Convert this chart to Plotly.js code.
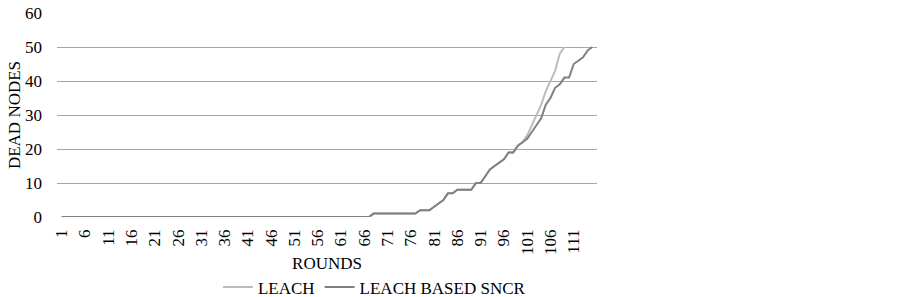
<!DOCTYPE html>
<html>
<head>
<meta charset="utf-8">
<script src="https://cdn.plot.ly/plotly-3.0.1.min.js"></script>
<style>html,body{margin:0;padding:0;background:#fff;}#chart{width:903px;height:297px;}</style>
</head>
<body>
<div id="chart"></div>
<script>
// Rounds 1..115
const rounds = [];
for (let i = 1; i <= 115; i++) rounds.push(i);

// LEACH dead nodes (rounds 1..109)
const leach = [
  0,0,0,0,0,0,0,0,0,0, 0,0,0,0,0,0,0,0,0,0,
  0,0,0,0,0,0,0,0,0,0, 0,0,0,0,0,0,0,0,0,0,
  0,0,0,0,0,0,0,0,0,0, 0,0,0,0,0,0,0,0,0,0,
  0,0,0,0,0,0,0,1,1,1, 1,1,1,1,1,1,1,2,2,2,
  3,4,5,7,7,8,8,8,8,10, 10,12,14,15,16,17,19,19,21,22,
  24,27,30,33,37,40,43,48,50
];

// LEACH BASED SNCR dead nodes (rounds 1..115)
const sncr = [
  0,0,0,0,0,0,0,0,0,0, 0,0,0,0,0,0,0,0,0,0,
  0,0,0,0,0,0,0,0,0,0, 0,0,0,0,0,0,0,0,0,0,
  0,0,0,0,0,0,0,0,0,0, 0,0,0,0,0,0,0,0,0,0,
  0,0,0,0,0,0,0,1,1,1, 1,1,1,1,1,1,1,2,2,2,
  3,4,5,7,7,8,8,8,8,10, 10,12,14,15,16,17,19,19,21,22,
  23,25,27,29,33,35,38,39,41,41, 45,46,47,49,50
];

const xTicks = [1,6,11,16,21,26,31,36,41,46,51,56,61,66,71,76,81,86,91,96,101,106,111];
const yTicks = [0,10,20,30,40,50,60];

const seriesNames = ['LEACH', 'LEACH BASED SNCR'];

const font = {family: '"Liberation Serif", "Times New Roman", serif', color: '#000', size: 17};

const traces = [
  {x: rounds.slice(0, leach.length), y: leach, type: 'scatter', mode: 'lines', name: seriesNames[0],
   line: {color: '#bcbcbc', width: 2}},
  {x: rounds, y: sncr, type: 'scatter', mode: 'lines', name: seriesNames[1],
   line: {color: '#808080', width: 2}}
];

const layout = {
  width: 903, height: 297,
  margin: {l: 57, r: 306, t: 13, b: 80, autoexpand: false},
  paper_bgcolor: '#fff', plot_bgcolor: '#fff',
  font: font,
  showlegend: true,
  legend: {orientation: 'h', x: 0.298, xanchor: 'left', y: -0.345, yanchor: 'middle',
           font: font, bgcolor: 'rgba(0,0,0,0)', itemwidth: 30, tracegroupgap: 0},
  xaxis: {
    range: [0, 116], tickmode: 'array', tickvals: xTicks, ticktext: xTicks.map(String),
    tickangle: -90, showgrid: false, zeroline: false, showline: false, ticks: '',
    tickfont: font, ticklabelstandoff: 8, automargin: false,
    title: {text: 'ROUNDS', font: font, standoff: 3}
  },
  yaxis: {
    range: [0, 60], tickmode: 'array', tickvals: yTicks, ticktext: yTicks.map(String),
    showgrid: true, gridcolor: '#a6a6a6', gridwidth: 1, zeroline: false, showline: false,
    ticks: '', tickfont: font, ticklabelstandoff: 14, automargin: false,
    title: {text: 'DEAD NODES', font: font, standoff: 0}
  }
};

Plotly.newPlot('chart', traces, layout, {displayModeBar: false, staticPlot: true});
</script>
</body>
</html>
